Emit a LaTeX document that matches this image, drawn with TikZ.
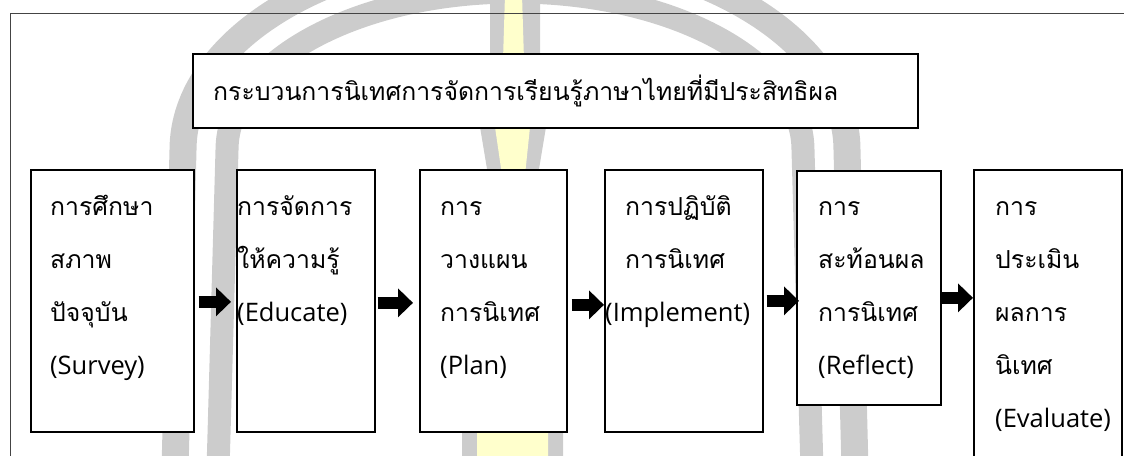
\documentclass[tikz,border=0pt]{standalone}
\usepackage{fontspec}
\setmainfont{Loma}[Script=Thai]
\newfontfamily\lat{Open Sans}
\usetikzlibrary{arrows.meta,calc}
\definecolor{wmgray}{HTML}{CCCCCC}
\definecolor{wmyellow}{HTML}{FFFFCC}
\definecolor{framecol}{HTML}{444444}
\newcommand\linestack[1]{\vtop{\baselineskip=53pt\halign{##\hfil\cr#1\crcr}}}
\newcommand\en[1]{{\lat\fontsize{25.5}{53}\selectfont #1}}
\begin{document}
\begin{tikzpicture}[x=1pt,y=1pt,
  box/.style={draw=black,line width=1.7pt,fill=white,anchor=north west,inner sep=0pt},
  txt/.style={anchor=base west,inner sep=0pt,font=\fontsize{24.8}{53}\selectfont},
  blockarrow/.style={draw=black,line width=12pt,-{Triangle[length=15pt,width=28pt]}},
  wmband/.style={draw=wmgray},
]
\clip (0,0) rectangle (1124,-455);
% watermark arches
\draw[wmband,line width=27pt] (175,-470) -- (183,-150) arc[start angle=180,end angle=90,x radius=332,y radius=200];
\draw[wmband,line width=23pt] (218,-470) -- (227,-150) arc[start angle=180,end angle=90,x radius=288,y radius=158];
\draw[wmband,line width=27pt] (855,-470) -- (847,-150) arc[start angle=0,end angle=90,x radius=332,y radius=200];
\draw[wmband,line width=23pt] (812,-470) -- (803,-150) arc[start angle=0,end angle=90,x radius=288,y radius=158];
% watermark torch
\fill[wmgray] (490,5) -- (540,5) -- (540,-60) -- (546,-127) -- (538,-175) -- (563,-431) -- (563,-460) -- (462,-460) -- (462,-431) -- (488,-175) -- (480,-127) -- (490,-60) -- cycle;
\fill[wmyellow] (505,5) -- (522,5) -- (524,-60) -- (530,-127) -- (525,-175) -- (548,-431) -- (548,-460) -- (477,-460) -- (477,-431) -- (502,-175) -- (495,-127) -- (503,-60) -- cycle;
% page frame
\draw[framecol,line width=1pt] (10,-460) -- (10,-13) -- (1130,-13);
% boxes
\node[box,minimum width=725pt,minimum height=74pt] (title) at (192,-53) {};
\node[box,minimum width=163pt,minimum height=262pt] (b1) at (30,-169) {};
\node[box,minimum width=138pt,minimum height=262pt] (b2) at (236,-169) {};
\node[box,minimum width=147pt,minimum height=262pt] (b3) at (419,-169) {};
\node[box,minimum width=158pt,minimum height=262pt] (b4) at (604,-169) {};
\node[box,minimum width=144pt,minimum height=234pt] (b5) at (796,-170) {};
\node[box,minimum width=148pt,minimum height=330pt] (b6) at (973,-169) {};
% texts
\node[txt] (t0) at (213,-100) {กระบวนการนิเทศการจัดการเรียนรู้ภาษาไทยที่มีประสิทธิผล};
\node[txt] (t1) at (50,-215) {\linestack{การศึกษา\cr สภาพ\cr ปัจจุบัน\cr \en{(Survey)}}};
\node[txt] (t2) at (237,-215) {\linestack{การจัดการ\cr ให้ความรู้\cr \en{(Educate)}}};
\node[txt] (t3) at (440,-215) {\linestack{การ\cr วางแผน\cr การนิเทศ\cr \en{(Plan)}}};
\node[txt] (t4) at (605,-215) {\linestack{\hspace{20pt}การปฏิบัติ\cr \hspace{20pt}การนิเทศ\cr \en{(Implement)}}};
\node[txt] (t5) at (818,-215) {\linestack{การ\cr สะท้อนผล\cr การนิเทศ\cr \en{(Reflect)}}};
\node[txt] (t6) at (995,-215) {\linestack{การ\cr ประเมิน\cr ผลการ\cr นิเทศ\cr \en{(Evaluate)}}};
% arrows
\draw[blockarrow] ($(b1.east)+(4,-1)$) -- ($(b2.west)+(-5,-1)$);
\draw[blockarrow] ($(b2.east)+(2,-2)$) -- ($(b3.west)+(-6,-2)$);
\draw[blockarrow] ($(b3.east)+(4,-4)$) -- ($(b4.west)+(0,-4)$);
\draw[blockarrow] ($(b4.east)+(3,0)$) -- ($(b5.west |- b4.east)+(3,0)$);
\draw[blockarrow] ($(b5.east |- b4.east)+(0,3)$) -- ($(b6.west |- b4.east)+(0,3)$);
\end{tikzpicture}
\end{document}
